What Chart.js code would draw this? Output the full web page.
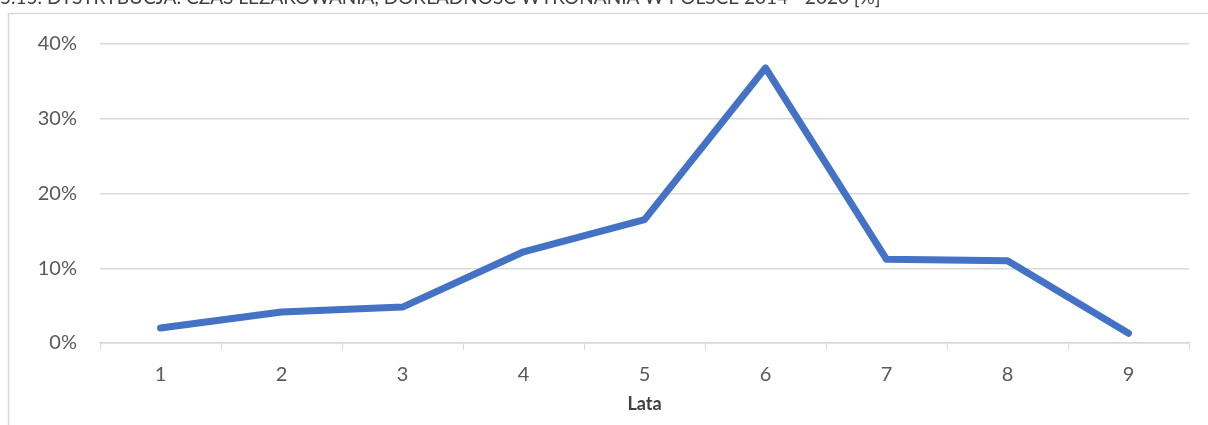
<!DOCTYPE html>
<html>
<head>
<meta charset="utf-8">
<script src="https://cdn.jsdelivr.net/npm/chart.js@4/dist/chart.umd.min.js"></script>
<style>
  html, body { margin: 0; padding: 0; background: #ffffff; }
  #wrap { width: 1208px; height: 425px; position: relative; }
  canvas { display: block; }
</style>
</head>
<body>
<div id="wrap"><canvas id="chart" width="1208" height="425"></canvas></div>
<script>
// Years on the x axis and the share (%) for each year
const years = ['1', '2', '3', '4', '5', '6', '7', '8', '9'];
const shares = [2.0, 4.15, 4.8, 12.2, 16.5, 36.8, 11.2, 11.0, 1.3];
const yTicks = [0, 10, 20, 30, 40];
const xTitle = 'Lata';
const headline = '5.15. DYSTRYBUCJA: CZAS LEŻAKOWANIA, DOKŁADNOŚĆ WYKONANIA W POLSCE 2014 - 2020 [%]';

const FONT = 'Lato, "Open Sans", sans-serif';
const GRID = '#d9d9d9';
const TEXT = '#595959';

// Frame around the chart plus the headline sitting above it
const framePlugin = {
  id: 'frame',
  beforeDraw(chart) {
    const ctx = chart.ctx;
    ctx.save();
    ctx.fillStyle = '#ffffff';
    ctx.fillRect(0, 0, chart.width, chart.height);
    ctx.strokeStyle = GRID;
    ctx.lineWidth = 1.5;
    ctx.beginPath();
    ctx.moveTo(8.5, chart.height);
    ctx.lineTo(8.5, 13.5);
    ctx.lineTo(chart.width, 13.5);
    ctx.stroke();
    ctx.fillStyle = '#404040';
    ctx.font = '19px ' + FONT;
    ctx.textAlign = 'left';
    ctx.textBaseline = 'alphabetic';
    ctx.fillText(headline, 0, 4);
    ctx.restore();
  }
};

new Chart(document.getElementById('chart'), {
  type: 'line',
  data: {
    labels: years,
    datasets: [{
      data: shares,
      borderColor: '#4472c4',
      backgroundColor: '#4472c4',
      borderWidth: 7,
      borderCapStyle: 'round',
      borderJoinStyle: 'round',
      pointRadius: 0,
      pointHoverRadius: 0,
      tension: 0,
      fill: false
    }]
  },
  options: {
    responsive: false,
    animation: false,
    events: [],
    layout: { padding: { left: 0, right: 19, top: 44, bottom: 0 } },
    plugins: {
      legend: { display: false },
      tooltip: { enabled: false }
    },
    scales: {
      x: {
        type: 'category',
        offset: true,
        grid: {
          offset: true,
          drawOnChartArea: false,
          drawTicks: true,
          tickLength: 7,
          color: GRID,
          lineWidth: 1
        },
        border: { display: true, color: GRID, width: 1.5 },
        ticks: {
          color: TEXT,
          font: { family: FONT, size: 20 },
          padding: 13,
          maxRotation: 0
        },
        title: {
          display: true,
          text: xTitle,
          color: '#404040',
          font: { family: FONT, size: 18, weight: 'bold' },
          padding: { top: 0, bottom: 10 }
        },
        afterFit(scale) { scale.height = 425 - 343; }
      },
      y: {
        min: 0,
        max: 40,
        afterBuildTicks(scale) { scale.ticks = yTicks.map(v => ({ value: v })); },
        grid: {
          drawTicks: false,
          color: GRID,
          lineWidth: 1.5
        },
        border: { display: false },
        ticks: {
          color: TEXT,
          font: { family: FONT, size: 20 },
          padding: 23,
          callback: v => v + '%'
        },
        afterFit(scale) { scale.width = 100; }
      }
    }
  },
  plugins: [framePlugin]
});
</script>
</body>
</html>
